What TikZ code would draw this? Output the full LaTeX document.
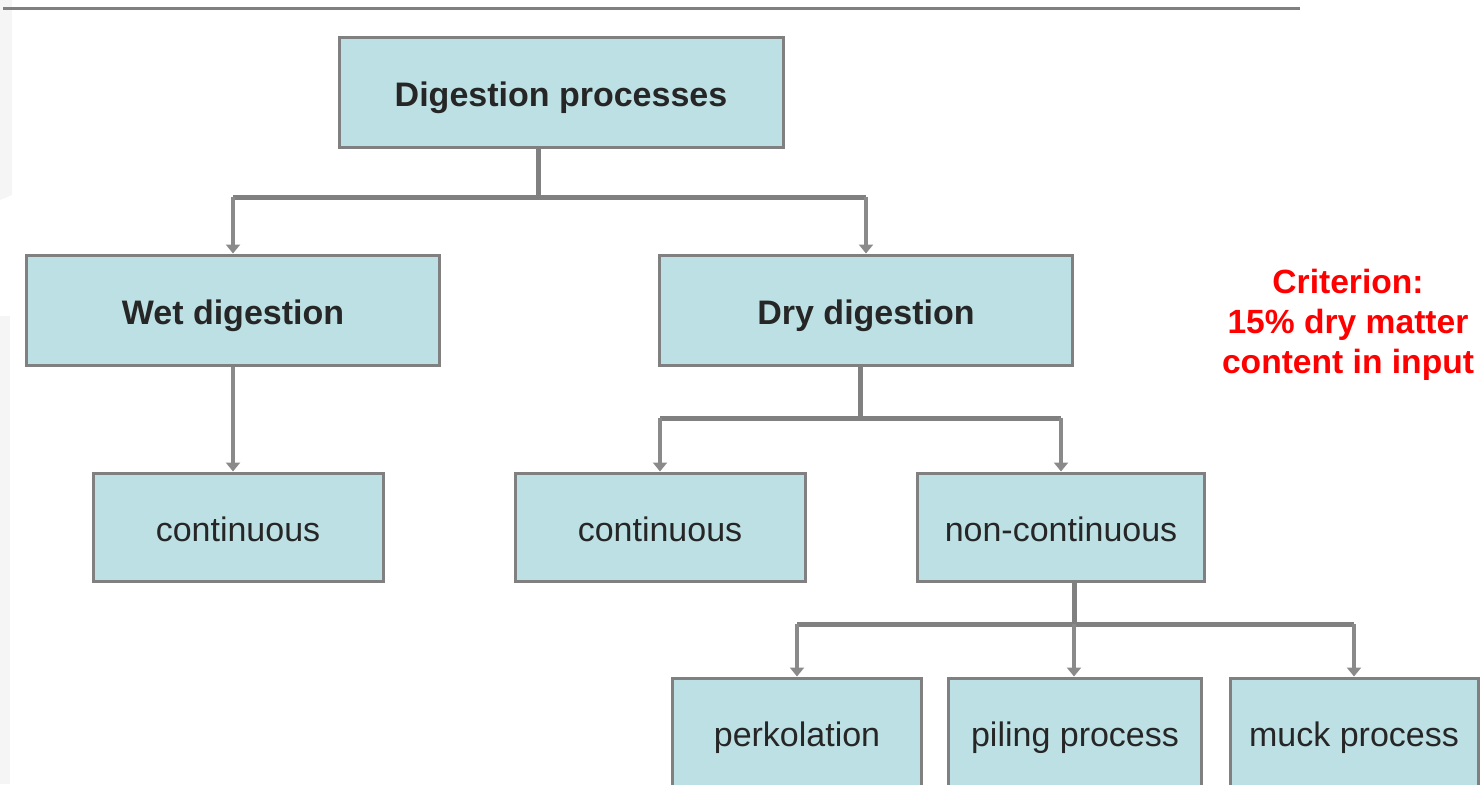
\documentclass[tikz,border=0pt]{standalone}
\usepackage{fontspec}
\setmainfont{Liberation Sans}
\usetikzlibrary{positioning,arrows.meta}
\definecolor{boxfill}{HTML}{BCE0E3}
\definecolor{boxline}{HTML}{808080}
\definecolor{dropline}{HTML}{8A8A8A}

\begin{document}
\begin{tikzpicture}[x=0.5pt,y=-0.5pt]
                    \tikzstyle{every node}=[font=\fontsize{17}{20}\selectfont,text=black!85]
                    \tikzstyle{box}=[fill=boxfill,draw=boxline,line width=1.5pt,rectangle,inner sep=0,text height=14pt,text depth=0pt]
                    \tikzstyle{big}=[box,minimum width=222pt,minimum height=55pt,font=\bfseries\fontsize{17}{20}\selectfont]
                    \tikzstyle{mid}=[box,minimum width=206.5pt,minimum height=55pt,font=\bfseries\fontsize{17}{20}\selectfont]
                    \tikzstyle{leaf}=[box,minimum width=145pt,minimum height=54pt]
                    \tikzstyle{bot}=[box,minimum width=125pt,minimum height=54pt]
                    \tikzstyle{trunk}=[draw=boxline,line width=2.5pt]
                    \tikzstyle{drop}=[draw=dropline,line width=2pt,-{Triangle[width=7pt,length=4.5pt]}]
                    \useasboundingbox (0,0) rectangle (1481,784);
                    \clip (0,0) rectangle (1481,784);
                    {
                        % faint slide edge and rule at the top
                        \fill[black!4] (0,0) -- (12,0) -- (12,195) -- (0,200) -- cycle;
                        \fill[black!4] (0,316) rectangle (10,784);
                        \draw[boxline,line width=1.5pt] (3,8) -- (1300,8);

                        \node[big] (dig) at (561,92) {Digestion processes};
                        \node[mid] (wet) at (233,310) {Wet digestion};
                        \node[mid] (dry) at (866,310) {Dry digestion};
                        \node[leaf] (wcont) at (238,527) {continuous};
                        \node[leaf] (dcont) at (660,527) {continuous};
                        \node[leaf,minimum width=143.5pt] (ncont) at (1061,527) {non-continuous};
                        \node[bot,minimum width=124.5pt] (perk) at (797,732) {perkolation};
                        \node[bot,minimum width=126.5pt] (pile) at (1075,732) {piling process};
                        \node[bot,minimum width=124pt] (muck) at (1354,732) {muck process};

                        \node[text=red,align=center,font=\bfseries\fontsize{16.8}{20}\selectfont] (crit) at (1348,325)
                            {Criterion:\\15\% dry matter\\content in input};

                        \coordinate (j1) at (538,197);
                        \coordinate (j2) at (860,418);
                        \coordinate (j3) at (1074,624);

                        % first level
                        \draw[trunk] (dig.south -| j1) -- (j1);
                        \draw[trunk] (j1 -| wet) -- (j1 -| dry);
                        \path
                            (j1 -| wet) edge[drop] (wet.north)
                            (j1 -| dry) edge[drop] (dry.north);

                        % wet branch
                        \draw[drop] (wet.south) -- (wet.south |- wcont.north);

                        % dry branch
                        \draw[trunk] (dry.south -| j2) -- (j2);
                        \draw[trunk] (j2 -| dcont) -- (j2 -| ncont);
                        \path
                            (j2 -| dcont) edge[drop] (dcont.north)
                            (j2 -| ncont) edge[drop] (ncont.north);

                        % non-continuous branch
                        \draw[trunk] (ncont.south -| j3) -- (j3);
                        \draw[trunk] (j3 -| perk) -- (j3 -| muck);
                        \path
                            (j3 -| perk) edge[drop] (perk.north)
                            (j3) edge[drop] (j3 |- pile.north)
                            (j3 -| muck) edge[drop] (muck.north);
                    }
\end{tikzpicture}
\end{document}
